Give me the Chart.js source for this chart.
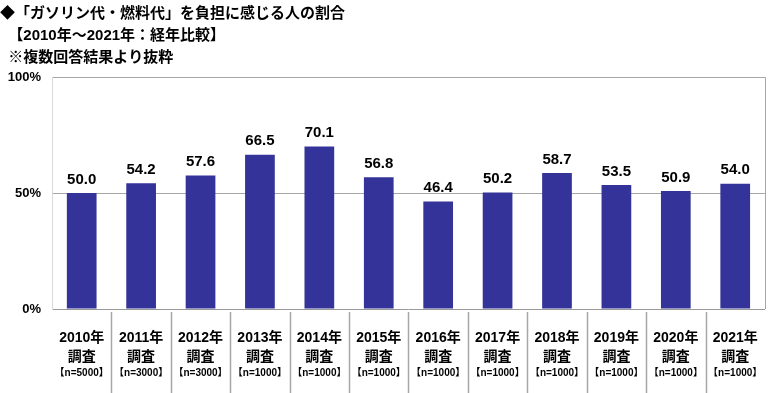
<!DOCTYPE html>
<html><head><meta charset="utf-8">
<script src="https://cdn.jsdelivr.net/npm/chart.js@4"></script>
<style>html,body{margin:0;padding:0;background:#fff}#wrap{width:770px;height:393px}</style>
</head><body><div id="wrap"><canvas id="c" width="770" height="393"></canvas></div>
<script>
const years = ["2010年","2011年","2012年","2013年","2014年","2015年","2016年","2017年","2018年","2019年","2020年","2021年"];
const sampleSizes = ["【n=5000】","【n=3000】","【n=3000】","【n=1000】","【n=1000】","【n=1000】","【n=1000】","【n=1000】","【n=1000】","【n=1000】","【n=1000】","【n=1000】"];
const values = [50.0, 54.2, 57.6, 66.5, 70.1, 56.8, 46.4, 50.2, 58.7, 53.5, 50.9, 54.0];
const yTicks = [0, 50, 100];
const titleLines = ["◆「ガソリン代・燃料代」を負担に感じる人の割合", "  【2010年～2021年：経年比較】", "  ※複数回答結果より抜粋"];

const FONT = '"Liberation Sans", "Noto Sans CJK JP", sans-serif';

const extras = {
  id: 'extras',
  afterDatasetsDraw(chart) {
    const ctx = chart.ctx;
    const meta = chart.getDatasetMeta(0);
    const xs = chart.scales.x;
    const area = chart.chartArea;
    ctx.save();
    // value labels
    ctx.font = 'bold 15px ' + FONT;
    ctx.fillStyle = '#000';
    ctx.textAlign = 'center';
    ctx.textBaseline = 'bottom';
    meta.data.forEach((bar, i) => {
      ctx.fillText(values[i].toFixed(1), bar.x, bar.y - 6);
    });
    // right border
    ctx.strokeStyle = '#a6a6a6';
    ctx.lineWidth = 1;
    ctx.beginPath();
    ctx.moveTo(Math.round(area.right) + 0.5, area.top);
    ctx.lineTo(Math.round(area.right) + 0.5, area.bottom);
    ctx.stroke();
    // category separators below axis
    ctx.strokeStyle = '#a6a6a6';
    ctx.lineWidth = 1.5;
    const step = (area.right - area.left) / years.length;
    for (let i = 1; i < years.length; i++) {
      const x = Math.round(area.left + step * i) + 0.5;
      ctx.beginPath();
      ctx.moveTo(x, area.bottom + 3);
      ctx.lineTo(x, chart.height);
      ctx.stroke();
    }
    // sample sizes
    ctx.font = 'bold 10px ' + FONT;
    ctx.textBaseline = 'middle';
    ctx.fillStyle = '#000';
    sampleSizes.forEach((s, i) => {
      ctx.fillText(s, xs.getPixelForValue(i), area.bottom + 64);
    });
    ctx.restore();
  }
};

new Chart(document.getElementById('c'), {
  type: 'bar',
  data: {
    labels: years.map(y => [y, '調査']),
    datasets: [{
      data: values,
      backgroundColor: '#333399',
      borderWidth: 0,
      barPercentage: 0.5,
      categoryPercentage: 1.0
    }]
  },
  options: {
    responsive: false,
    animation: false,
    layout: { padding: { left: 0, right: 5, top: 0, bottom: 0 } },
    plugins: {
      legend: { display: false },
      tooltip: { enabled: false },
      title: {
        display: true,
        text: titleLines,
        align: 'start',
        color: '#000',
        font: { family: FONT, size: 15, weight: 'bold', lineHeight: 1.47 },
        padding: { top: 3, bottom: 8 }
      }
    },
    scales: {
      x: {
        grid: { display: false },
        border: { color: '#999999', width: 1 },
        ticks: {
          color: '#000',
          font: { family: FONT, size: 14, weight: 'bold', lineHeight: 1.35 },
          padding: 12,
          maxRotation: 0,
          autoSkip: false
        },
        afterFit(axis) { axis.height = 84; }
      },
      y: {
        min: 0, max: 100,
        afterBuildTicks(axis) { axis.ticks = yTicks.map(v => ({ value: v })); },
        grid: { color: ctx => ctx.tick && ctx.tick.value === 0 ? 'rgba(0,0,0,0)' : '#a6a6a6', drawTicks: false, lineWidth: 1 },
        border: { color: '#d9d9d9', width: 1 },
        ticks: {
          color: '#000',
          font: { family: FONT, size: 13, weight: 'bold' },
          padding: 11,
          callback: v => v + '%'
        },
        afterFit(axis) { axis.width = 52; }
      }
    }
  },
  plugins: [extras]
});
</script>
</body></html>
